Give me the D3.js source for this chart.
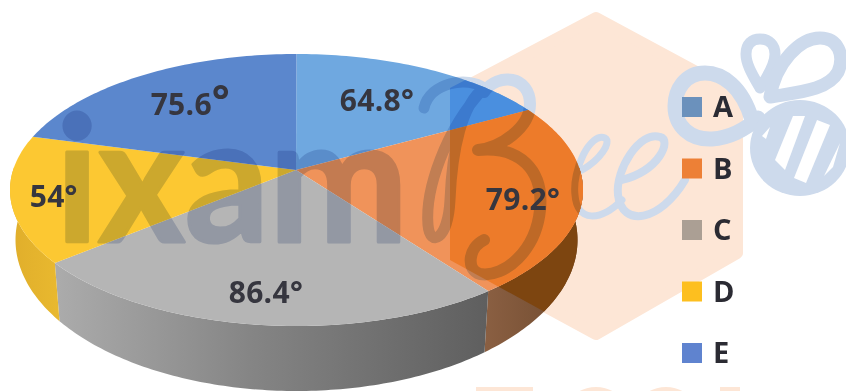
<!DOCTYPE html>
<html>
<head>
<meta charset="utf-8">
<script src="https://cdn.jsdelivr.net/npm/d3@7"></script>
<style>
    html, body { margin: 0; padding: 0; background: #fff; overflow: hidden; }
    text { font-family: "Open Sans", sans-serif; font-weight: 700; }
    .wm { mix-blend-mode: multiply; }
</style>
</head>
<body>
<div id="chart"></div>
<script>
const categories = ['A', 'B', 'C', 'D', 'E'];
const degrees = [64.8, 79.2, 86.4, 54, 75.6];
const degreeLabels = ['64.8', '79.2', '86.4', '54', '75.6'];

// colours: outside the watermark hexagon, then inside it
const topColors = ['#6fa8e0', '#f0935a', '#b5b5b5', '#fcc832', '#5b87cd'];
const hexTopColors = ['#4a8fdf', '#ed7b2a', '#aeaeae', '#fcc832', '#5b87cd'];
const legendColors = ['#6b91bc', '#ed8036', '#ab9f94', '#fdbf1f', '#5f83cf'];

const [svgW, svgH] = [846, 391];
const TOP = {cx: 296.5, cy: 190, rx: 286.5, ry: 136};
const BOTTOM = {cx: 296.5, cy: 240, rx: 281, ry: 151};
const APEX = [296, 170];
// where the slice edges land on the rim, the picture is in perspective so not the true angle
const RIM_ANGLES = [0, 54, 138, 237.5, 293, 360];
const LABEL_REACH = [0.62, 0.795, 0.79, 0.85, 0.67];
const LABEL_NUDGE = [-7, 2, 0, 0, -3];
const HEX = [[596, 18], [737, 94], [737, 253], [596, 334], [456, 258], [456, 92]];
const HEX_OUTER = [[596, 12], [743, 90], [743, 256], [596, 340], [450, 260], [450, 88]];

const svg = d3.select('#chart').append('svg').attr('width', svgW).attr('height', svgH);
const defs = svg.append('defs');
const line = d3.line();
const toDeg = 180 / Math.PI;

const pieData = d3.pie().sort(null)(degrees);
const rimScale = d3.scaleLinear()
    .domain([0].concat(pieData.map(d => d.endAngle * toDeg)))
    .range(RIM_ANGLES);

function rimPoint(e, phi) {
    const a = phi / toDeg;
    return [e.cx + e.rx * Math.sin(a), e.cy - e.ry * Math.cos(a)];
}

function rimRange(from, to) {
    return d3.range(from, to, 1).concat([to]);
}

function slicePath(d) {
    const phis = rimRange(rimScale(d.startAngle * toDeg), rimScale(d.endAngle * toDeg));
    return line([APEX].concat(phis.map(p => rimPoint(TOP, p)))) + 'Z';
}

function sidePath(d) {
    const from = Math.max(rimScale(d.startAngle * toDeg), 80);
    const to = Math.min(rimScale(d.endAngle * toDeg), 280);
    if (from >= to) return null;
    const phis = rimRange(from, to);
    return line(phis.map(p => rimPoint(TOP, p)).concat(phis.slice().reverse().map(p => rimPoint(BOTTOM, p)))) + 'Z';
}

function addGradient(id, stops) {
    const g = defs.append('linearGradient').attr('id', id)
        .attr('gradientUnits', 'userSpaceOnUse')
        .attr('x1', stops[0][0]).attr('x2', stops[stops.length - 1][0]).attr('y1', 0).attr('y2', 0);
    stops.forEach(s => {
        g.append('stop')
            .attr('offset', (s[0] - stops[0][0]) / (stops[stops.length - 1][0] - stops[0][0]))
            .attr('stop-color', s[1]);
    });
}

addGradient('sideB', [[486, '#8a5f42'], [580, '#6f4a2e']]);
addGradient('sideC', [[58, '#ababab'], [250, '#858585'], [486, '#5f5f5f']]);
addGradient('sideD', [[10, '#e0ae2b'], [60, '#e9b92f']]);
const sideFills = ['none', 'url(#sideB)', 'url(#sideC)', 'url(#sideD)', 'none'];

defs.append('clipPath').attr('id', 'hexClip')
    .append('path').attr('d', line(HEX_OUTER) + 'Z');

const pieClip = defs.append('clipPath').attr('id', 'pieClip');
pieData.forEach(d => {
    pieClip.append('path').attr('d', slicePath(d));
    if (sidePath(d)) pieClip.append('path').attr('d', sidePath(d));
});

function renderHexagon() {
    const g = svg.append('g').attr('fill', '#fde6d6');
    g.append('path').attr('d', line(HEX) + 'Z')
        .attr('stroke', '#fde6d6').attr('stroke-width', 12).attr('stroke-linejoin', 'round');
    // top of the next watermark line, cut off by the bottom of the picture
    g.append('rect').attr('x', 476).attr('y', 387).attr('width', 57).attr('height', 6);
    g.append('ellipse').attr('cx', 596).attr('cy', 402).attr('rx', 24).attr('ry', 15);
    g.append('ellipse').attr('cx', 666).attr('cy', 402).attr('rx', 24).attr('ry', 15);
    g.append('rect').attr('x', 720).attr('y', 387).attr('width', 20).attr('height', 6);
}

function renderBeeWord(parent) {
    const strokes = parent.append('g').attr('fill', 'none').attr('stroke', '#cddaec')
        .attr('stroke-linecap', 'round').attr('stroke-linejoin', 'round');
    strokes.append('path').attr('stroke-width', 11)
        .attr('d', 'M424 108C430 82 468 76 484 88C462 104 452 150 450 200C448 240 430 248 428 225C425 190 445 130 484 88');
    strokes.append('path').attr('stroke-width', 12)
        .attr('d', 'M484 92C498 72 530 76 530 104C530 128 500 148 478 150C520 146 544 170 540 210C536 250 505 278 480 274C466 270 468 248 484 240');
    strokes.append('path').attr('stroke-width', 7)
        .attr('d', 'M582 170C600 160 612 142 605 138C590 132 572 170 575 195C577 222 600 222 622 200');
    strokes.append('path').attr('stroke-width', 8)
        .attr('d', 'M622 180C660 170 672 140 660 137C640 130 615 170 618 195C622 228 660 222 685 180');
}

function renderBeeLogo() {
    const strokes = svg.append('g').attr('fill', 'none').attr('stroke', '#cddaec')
        .attr('stroke-linecap', 'round').attr('stroke-linejoin', 'round');
    strokes.append('path').attr('stroke-width', 15)
        .attr('d', 'M752 120C742 86 722 73 705 73C685 73 675 90 675 106C675 126 690 140 712 139C728 138 745 130 758 118');
    strokes.append('path').attr('stroke-width', 11)
        .attr('d', 'M760 88C752 74 746 64 746 54C746 44 752 39 760 39C769 39 775 45 775 54C775 64 768 76 760 88Z');
    strokes.append('path').attr('stroke-width', 13)
        .attr('d', 'M770 97C776 62 800 38 820 38C838 38 845 55 838 72C828 90 800 92 770 97Z');
    svg.append('ellipse').attr('cx', 800).attr('cy', 148).attr('rx', 50).attr('ry', 48).attr('fill', '#cddaec');
    svg.append('g').attr('fill', '#fff').selectAll('path')
        .data(['M775 160L793 116L805 116L785 170Z', 'M794 178L817 120L830 125L806 183Z', 'M824 176L840 143L833 167Z', 'M762 136L770 127L766 139Z'])
        .enter().append('path').attr('d', d => d);
}

function renderPie() {
    svg.append('g').selectAll('path').data(pieData.filter(sidePath)).enter().append('path')
        .attr('d', sidePath)
        .attr('fill', d => sideFills[d.index]);

    svg.append('g').attr('clip-path', 'url(#hexClip)')
        .append('path').attr('d', sidePath(pieData[1])).attr('fill', '#7d4510');

    svg.append('g').selectAll('path').data(pieData).enter().append('path')
        .attr('d', slicePath)
        .attr('fill', d => topColors[d.index]);

    svg.append('g').attr('clip-path', 'url(#hexClip)')
        .selectAll('path').data(pieData).enter().append('path')
        .attr('d', slicePath)
        .attr('fill', d => hexTopColors[d.index]);
}

function renderWatermark() {
    const g = svg.append('g').attr('class', 'wm');
    g.append('text').attr('transform', 'translate(56,242) scale(1,1.05)')
        .attr('font-size', 166).style('font-family', 'Lato, sans-serif').style('font-weight', 700)
        .attr('fill', '#cfd6e6').attr('stroke', '#cfd6e6').attr('stroke-width', 3).attr('stroke-linejoin', 'round')
        .text('ixam');

    // the word only darkens where it crosses the pie, the part outside is already drawn under it
    renderBeeWord(g.append('g').attr('clip-path', 'url(#pieClip)'));
}

function renderLabels() {
    const labels = svg.append('g').selectAll('text').data(pieData).enter().append('text')
        .attr('transform', d => {
            const mid = (rimScale(d.startAngle * toDeg) + rimScale(d.endAngle * toDeg)) / 2;
            const edge = rimPoint(TOP, mid);
            const t = LABEL_REACH[d.index];
            return 'translate(' + (APEX[0] + (edge[0] - APEX[0]) * t) + ',' + (APEX[1] + (edge[1] - APEX[1]) * t + LABEL_NUDGE[d.index]) + ')';
        })
        .attr('text-anchor', 'middle').attr('dy', '0.36em')
        .attr('font-size', 30).attr('letter-spacing', 0.3).attr('fill', '#36363f')
        .text(d => degreeLabels[d.index]);
    // the degree sign of E is set larger in the picture
    labels.append('tspan')
        .attr('font-size', d => d.index === 4 ? 42 : 30)
        .text('°');
}

function renderLegend() {
    const y = d3.scalePoint().domain(categories).range([107, 353]);
    const items = svg.append('g').selectAll('g').data(categories).enter().append('g')
        .attr('transform', d => 'translate(682,' + y(d) + ')');
    items.append('rect').attr('y', -10).attr('width', 20).attr('height', 20)
        .attr('fill', (d, i) => legendColors[i]);
    items.append('text').attr('x', 31).attr('dy', '0.36em')
        .attr('font-size', 29).attr('fill', '#2b2b33').text(d => d);
}

function main() {
    renderHexagon();
    renderBeeWord(svg);
    renderBeeLogo();
    renderPie();
    renderWatermark();
    renderLabels();
    renderLegend();
}

main();
</script>
</body>
</html>
